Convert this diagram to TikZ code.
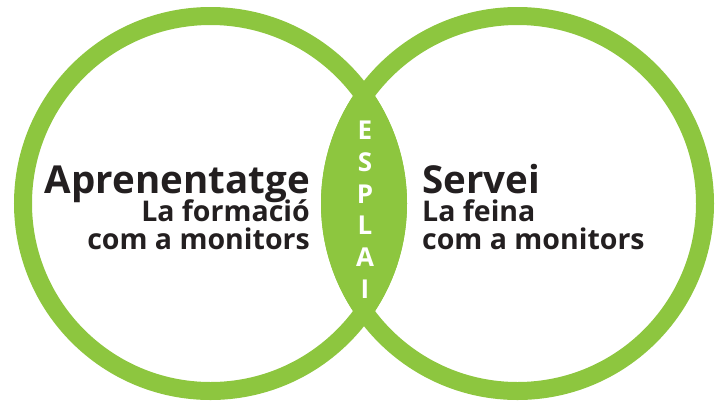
\documentclass[tikz,border=0pt]{standalone}
\usepackage{fontspec}
\setmainfont{Open Sans}
\definecolor{vgreen}{RGB}{141,198,63}
\definecolor{ink}{RGB}{35,31,32}
\begin{document}
\begin{tikzpicture}[x=1pt,y=-1pt,
  ring/.style={draw=vgreen,line width=18pt},
  title/.style={font={\bfseries\fontsize{38.5}{38.5}\selectfont},text=ink,inner sep=0pt,text depth=0pt},
  sub/.style={font={\bfseries\fontsize{28.5}{28.5}\selectfont},text=ink,inner sep=0pt,text height=21pt,text depth=0pt},
  letter/.style={font={\bfseries\fontsize{26}{26}\selectfont},text=white,inner sep=0pt,anchor=base}]
\useasboundingbox (0,0) rectangle (717,400);
\coordinate (cl) at (210.5,203.5);
\coordinate (cr) at (517.5,203.5);
\begin{scope}
  \clip (cl) circle[radius=196.5pt];
  \fill[vgreen] (cr) circle[radius=196.5pt];
\end{scope}
\draw[ring] (cl) circle[radius=187.5pt];
\draw[ring] (cr) circle[radius=187.5pt];
% left block
\node[title,anchor=base east] (lt) at (310,193) {Aprenentatge};
\node[sub,anchor=base east] (l1) at (310,221) {La formació};
\node[sub,anchor=base east] (l2) at (310,249) {com a monitors};
% right block
\node[title,anchor=base west] (rt) at (422,193) {Servei};
\node[sub,anchor=base west] (r1) at (422,221) {La feina};
\node[sub,anchor=base west] (r2) at (422,249) {com a monitors};
% ESPLAI
\node[letter] (e1) at (365,139) {E};
\node[letter] (e2) at (365,171) {S};
\node[letter] (e3) at (365,203) {P};
\node[letter] (e4) at (365,234) {L};
\node[letter] (e5) at (365,266) {A};
\node[letter] (e6) at (365,298) {I};
\end{tikzpicture}
\end{document}
